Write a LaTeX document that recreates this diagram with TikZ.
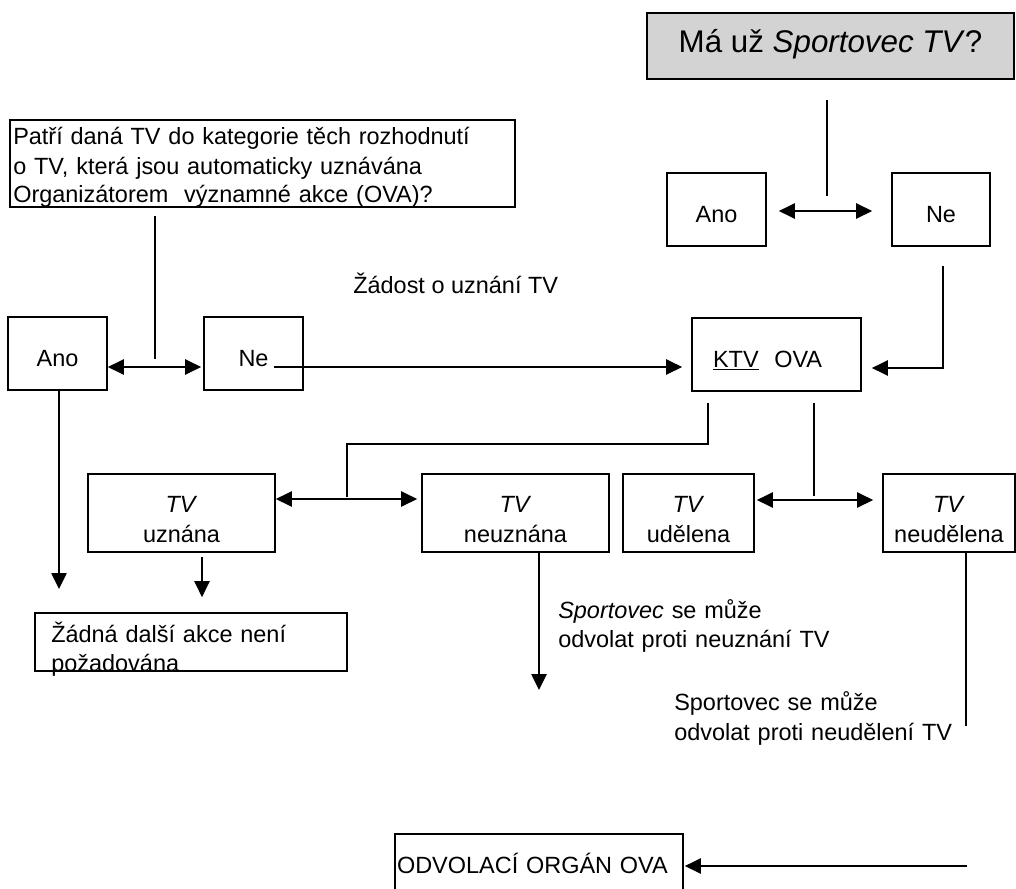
\documentclass[tikz,border=0pt]{standalone}
\usepackage{fontspec}
\setmainfont{Liberation Sans}
\usetikzlibrary{arrows.meta, calc}
\definecolor{titlegray}{RGB}{211,211,211}

\begin{document}
\begin{tikzpicture}[x=0.75pt, y=-0.75pt,
    font=\fontsize{17.6}{21.75}\selectfont,
    box/.style={draw, line width=1.3pt, inner sep=0pt},
    sz/.style 2 args={minimum width=#1, minimum height=#2},
    onebox/.style={box, text height=18.75pt, text depth=0pt},
    tvbox/.style={box, minimum width=#1, minimum height=58.5pt, text width=#1-6pt, align=center,
        text height=12pt, text depth=13.5pt, font=\fontsize{17.6}{22.5}\selectfont},
    txt/.style={inner sep=0pt, anchor=base west, align=left},
    conn/.style={line width=1.1pt},
    arr/.style={conn, -{Triangle[length=12pt, width=11.5pt]}},
    darr/.style={conn, {Triangle[length=12pt, width=11.5pt]}-{Triangle[length=12pt, width=11.5pt]}}]
    \clip (0,0) rectangle (1016,888);

    % boxes
    \node[box, fill=titlegray, sz={275.25pt}{49.5pt}, text height=15pt, text depth=4.5pt,
        font=\fontsize{23.5}{28}\selectfont] (title) at (830.5,46) {Má už \textit{Sportovec TV}?};
    \node[onebox, sz={74.25pt}{54.75pt}] (tano) at (716.5,209.5) {Ano};
    \node[onebox, sz={73.5pt}{54.75pt}] (tne) at (941,209.5) {Ne};
    \node[box, sz={378.75pt}{65.25pt}] (question) at (262.5,163.5) {};
    \node[onebox, sz={74.25pt}{54.75pt}] (lano) at (57.5,353.5) {Ano};
    \node[onebox, sz={74.25pt}{54.75pt}] (lne) at (253.5,353.5) {Ne};
    \node[onebox, sz={126.75pt}{54.75pt}, inner xsep=15.75pt, text width=95.25pt, align=left]
        (ktv) at (776.5,354.5) {\underline{KTV}\ \ OVA};
    \node[tvbox=140.25pt] (uzn) at (181.5,513) {\textit{TV}\\uznána};
    \node[tvbox=140.25pt] (neuzn) at (515.5,513) {\textit{TV}\\neuznána};
    \node[tvbox=98.25pt] (udel) at (688.5,513) {\textit{TV}\\udělena};
    \node[tvbox=99pt] (neudel) at (949,513) {\textit{TV}\\neudělena};
    \node[box, sz={234pt}{43.5pt}] (zadna) at (191,642) {};
    \node[box, sz={216pt}{53.25pt}, text width=213pt, align=left,
        text height=12pt, text depth=6.75pt] (odvol) at (539,869.5) {ODVOLACÍ ORGÁN OVA};

    % free texts
    \node[txt, text width=372pt] (questiontext) at (13,145)
        {Patří daná TV do kategorie těch rozhodnutí\\o TV, která jsou automaticky uznávána\\Organizátorem\ \ významné akce (OVA)?};
    \node[txt] (zadost) at (353,293) {Žádost o uznání TV};
    \node[txt, text width=225pt] (zadnatext) at (51,642) {Žádná další akce není\\požadována};
    \node[txt, text width=225pt] (appealA) at (558,618) {\textit{Sportovec} se může\\odvolat proti neuznání TV};
    \node[txt, text width=225pt, font=\fontsize{17.6}{22.5}\selectfont] (appealB) at (674,710)
        {Sportovec se může\\odvolat proti neudělení TV};

    % split points and loose ends
    \coordinate (tsplit) at (827,211);
    \coordinate (ktvin) at (943,368);
    \coordinate (lsplit) at (155,367);
    \coordinate (neout) at ($(lne.center)+(20.5,13.5)$);
    \coordinate (usplit) at (347,499);
    \coordinate (dsplit) at (814,500);
    \coordinate (anoend) at (59,589);
    \coordinate (uznout) at ($(uzn.south)+(20.5,0)$);
    \coordinate (neuznend) at (539,690);
    \coordinate (neudelend) at (966,726);
    \coordinate (odvolin) at (967,866);

    % connectors
    \draw[conn, shorten <=15pt, shorten >=11.25pt] (tsplit |- title.south) -- (tsplit);
    \draw[darr, shorten <=9pt, shorten >=14.25pt] (tano.east |- tsplit) -- (tne.west |- tsplit);
    \draw[arr, shorten <=14.25pt, shorten >=7.5pt] (ktvin |- tne.south) |- (ktv.east |- ktvin);
    \draw[conn, shorten <=6pt, shorten >=6pt] (lsplit |- question.south) -- (lsplit);
    \draw[darr, shorten >=1.5pt] (lano.east |- lsplit) -- (lne.west |- lsplit);
    \draw[arr, shorten >=6.75pt] (neout) -- (neout -| ktv.west);
    \draw[conn] ($(ktv.south)+(-68.5,11)$) |- ($(usplit)+(0,-55)$) -- ($(usplit)+(0,-2)$);
    \draw[darr, shorten >=3pt] (uzn.east |- usplit) -- (neuzn.west |- usplit);
    \draw[conn, shorten <=8.25pt, shorten >=3pt] (dsplit |- ktv.south) -- (dsplit);
    \draw[darr, shorten <=1.5pt, shorten >=6.75pt] (udel.east |- dsplit) -- (neudel.west |- dsplit);
    \draw[arr] (anoend |- lano.south) -- (anoend);
    \draw[arr, shorten <=3pt, shorten >=11.25pt] (uznout) -- (uznout |- zadna.north);
    \draw[arr] (neuznend |- neuzn.south) -- (neuznend);
    \draw[conn] (neudelend |- neudel.south) -- (neudelend);
    \draw[arr, shorten >=0.75pt] (odvolin) -- (odvolin -| odvol.east);
\end{tikzpicture}
\end{document}
